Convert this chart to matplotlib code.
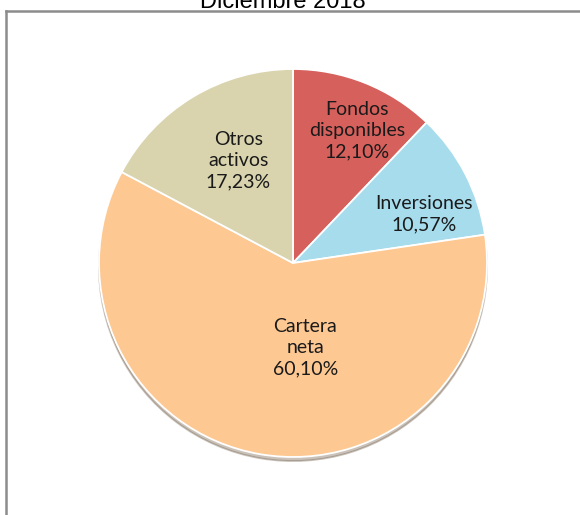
import matplotlib.pyplot as plt
from matplotlib.lines import Line2D
import numpy as np

# data
labels = ["Fondos\ndisponibles", "Inversiones", "Cartera\nneta", "Otros\nactivos"]
values = [12.10, 10.57, 60.10, 17.23]
colors = ["#D6605C", "#A6DCEC", "#FDC891", "#D9D4AE"]
title = "Diciembre 2018"

# label placement (radius fraction, angle offset in degrees from slice middle)
lab_r = [0.76, 0.72, 0.44, 0.60]
lab_da = [-4, -7, 18, -3]

W, H = 580, 515
fig = plt.figure(figsize=(W / 100, H / 100), dpi=100)
cx, cy, R = 293, 263, 194
half = 210
ax = fig.add_axes([(cx - half) / W, (H - cy - half) / H, 2 * half / W, 2 * half / H])

wedges, _ = ax.pie(values, colors=colors, startangle=90, counterclock=False,
                   radius=1.0, wedgeprops=dict(edgecolor="white", linewidth=1.3),
                   shadow={"ox": 0.0, "oy": -0.015, "shade": 0.6, "alpha": 0.35})
lim = half / R
ax.set_xlim(-lim, lim)
ax.set_ylim(-lim, lim)
ax.axis("off")

for w, lab, v, r, da in zip(wedges, labels, values, lab_r, lab_da):
    mid = np.deg2rad((w.theta1 + w.theta2) / 2 + da)
    txt = lab + "\n" + f"{v:.2f}".replace(".", ",") + "%"
    ax.text(r * np.cos(mid), r * np.sin(mid), txt, ha="center", va="center",
            fontsize=14, family="Lato", color="#1a1a1a", linespacing=1.3)

# title (partly cut off at the top) and border
fig.text(283 / W, 1 - 8 / H, title, ha="center", va="baseline",
         fontsize=17, family="Liberation Sans", color="black")
fig.add_artist(Line2D([6 / W, 6 / W], [0, 1 - 11 / H], color="#8C8C8C", lw=1.8,
                      transform=fig.transFigure))
fig.add_artist(Line2D([6 / W, 1], [1 - 11 / H, 1 - 11 / H], color="#8C8C8C", lw=1.8,
                      transform=fig.transFigure))

fig.savefig("out.png", dpi=100)
